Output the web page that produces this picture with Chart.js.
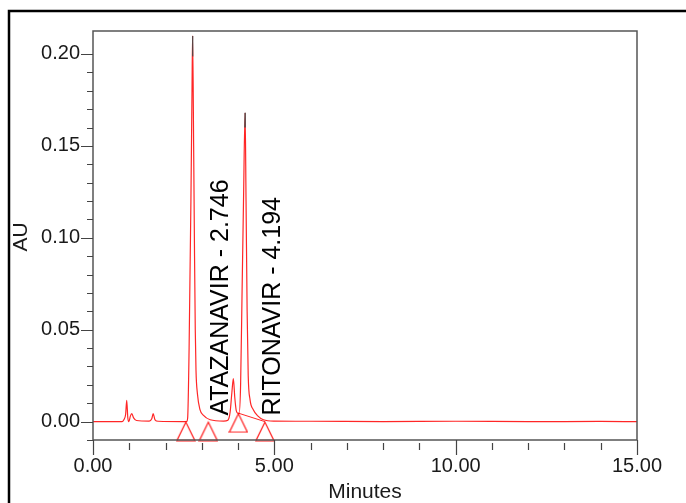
<!DOCTYPE html>
<html lang="en">
<head>
  <meta charset="UTF-8">
  <title>Chromatogram</title>
  <script src="https://cdn.jsdelivr.net/npm/chart.js"></script>
  <style>
    body { margin: 0; background: #fff; }
    #wrap { width: 686px; height: 503px; position: relative; }
  </style>
</head>
<body>
  <div id="wrap"><canvas id="chrom"></canvas></div>
  <script>
    // trace (minutes, AU)
    const traceTime = [0, 0.80, 0.85, 0.90, 0.93, 0.96, 0.99, 1.03, 1.07, 1.12, 1.20, 1.55, 1.62, 1.66, 1.71, 1.80,
      2.50, 2.58, 2.61, 2.65, 2.70, 2.73, 2.746, 2.775, 2.80, 2.82, 2.84, 2.88, 2.95, 3.04, 3.23, 3.60,
      3.72, 3.78, 3.83, 3.87, 3.91, 3.95, 4.00, 4.03, 4.07, 4.11, 4.15, 4.194, 4.22, 4.25, 4.28, 4.33, 4.42, 4.55, 4.70,
      5.00, 6.00, 8.00, 10.00, 12.00, 14.00, 15.00];
    const traceAU = [0, 0, 0.001, 0.004, 0.0116, 0.002, 0, 0.003, 0.0043, 0.002, 0.0006, 0.0003, 0.0015, 0.0043, 0.001, 0.0002,
      0, 0, 0.002, 0.04, 0.12, 0.18, 0.2098, 0.15, 0.09, 0.05, 0.028, 0.015, 0.0065, 0.0035, 0.001, 0.0003,
      0.0008, 0.005, 0.016, 0.0234, 0.013, 0.006, 0.0045, 0.0045, 0.02, 0.07, 0.12, 0.168, 0.12, 0.06, 0.025, 0.012, 0.0065, 0.003, 0.001,
      0.0003, 0.0002, 0, 0.0002, 0, 0.0001, 0];

    // dark tips of the two main peaks
    const tipTime = [2.739, 2.746, 2.7505, null, 4.187, 4.194, 4.198];
    const tipAU = [0.199, 0.2098, 0.199, null, 0.160, 0.168, 0.160];

    // integration marks (triangles) and baselines
    const markTime = [2.56, 3.18, 4.01, 4.74];
    const markAU = [0, 0, 0.0046, 0];

    const peakNames = ['ATAZANAVIR', 'RITONAVIR'];
    const peakRT = [2.746, 4.194];

    const xMax = 15, yMin = -0.01, yMax = 0.2125;

    const pts = (xs, ys) => xs.map((v, i) => ({ x: v, y: ys[i] }));
    const FONT = "'Liberation Sans', Arial, sans-serif";

    // triangle marker whose apex sits on the point
    const tri = document.createElement('canvas');
    tri.width = 20; tri.height = 40;
    (function () {
      const c = tri.getContext('2d');
      c.strokeStyle = 'rgba(255,0,0,0.9)';
      c.lineWidth = 1.2;
      c.beginPath();
      c.moveTo(10, 20.5); c.lineTo(1, 39); c.lineTo(19, 39); c.closePath();
      c.stroke();
    })();

    const near = (v, step) => Math.abs(v / step - Math.round(v / step)) < 1e-6;

    const decor = {
      id: 'decor',
      afterDraw(chart) {
        const { ctx, chartArea: a, scales: { x, y } } = chart;
        ctx.save();
        // outer frame
        ctx.strokeStyle = '#000';
        ctx.lineWidth = 2.5;
        ctx.beginPath();
        ctx.moveTo(9, 503); ctx.lineTo(9, 11); ctx.lineTo(686, 11);
        ctx.stroke();
        // plot box
        ctx.strokeStyle = '#555';
        ctx.lineWidth = 1.5;
        ctx.strokeRect(a.left, a.top, a.right - a.left, a.bottom - a.top);
        // ticks
        ctx.lineWidth = 1.2;
        ctx.strokeStyle = '#444';
        ctx.beginPath();
        x.ticks.forEach(t => {
          if (!near(t.value, 1)) return;
          const px = Math.round(x.getPixelForValue(t.value)) + 0.5;
          if (near(t.value, 5)) { ctx.moveTo(px, a.bottom); ctx.lineTo(px, a.bottom + 15); }
          else { ctx.moveTo(px, a.bottom + 3); ctx.lineTo(px, a.bottom + 10); }
        });
        y.ticks.forEach(t => {
          if (!near(t.value, 0.01)) return;
          const py = Math.round(y.getPixelForValue(t.value)) + 0.5;
          if (near(t.value, 0.05)) { ctx.moveTo(a.left, py); ctx.lineTo(a.left - 12, py); }
          else { ctx.moveTo(a.left, py); ctx.lineTo(a.left - 6, py); }
        });
        ctx.stroke();
        // axis titles
        ctx.fillStyle = '#1a1a1a';
        ctx.font = '21px ' + FONT;
        ctx.textAlign = 'center';
        ctx.textBaseline = 'middle';
        ctx.fillText('Minutes', 365, 492);
        ctx.save();
        ctx.translate(21, 237);
        ctx.rotate(-Math.PI / 2);
        ctx.fillText('AU', 0, 0);
        ctx.restore();
        // peak labels
        ctx.font = '25px ' + FONT;
        ctx.textAlign = 'left';
        ctx.textBaseline = 'alphabetic';
        ctx.fillStyle = '#000';
        peakNames.forEach((n, i) => {
          ctx.save();
          ctx.translate(x.getPixelForValue(peakRT[i]) + 35, y.getPixelForValue(0) - 6);
          ctx.rotate(-Math.PI / 2);
          ctx.fillText(n + ' - ' + peakRT[i].toFixed(3), 0, 0);
          ctx.restore();
        });
        ctx.restore();
      }
    };

    new Chart(document.getElementById('chrom'), {
      type: 'line',
      data: {
        datasets: [
          {
            data: pts(tipTime, tipAU),
            borderColor: 'rgba(70,70,70,0.9)',
            borderWidth: 1.3,
            pointRadius: 0,
            spanGaps: false,
            order: 0
          },
          {
            data: pts(traceTime, traceAU),
            borderColor: 'rgba(255,0,0,0.85)',
            borderWidth: 1.2,
            pointRadius: 0,
            cubicInterpolationMode: 'monotone',
            order: 1
          },
          {
            // integration baseline between the two last marks
            data: pts(markTime.slice(2), markAU.slice(2)),
            borderColor: 'rgba(255,0,0,0.85)',
            borderWidth: 1,
            pointRadius: 0,
            order: 2
          },
          {
            data: pts(markTime, markAU),
            showLine: false,
            pointStyle: tri,
            pointRadius: 10,
            clip: false,
            order: 3
          }
        ]
      },
      options: {
        responsive: true,
        maintainAspectRatio: false,
        animation: false,
        layout: { padding: { left: 0, top: 31, right: 49, bottom: 0 } },
        plugins: { legend: { display: false }, tooltip: { enabled: false } },
        scales: {
          x: {
            type: 'linear',
            min: 0,
            max: xMax,
            afterFit: s => { s.height = 63; },
            grid: { display: false, drawTicks: false },
            border: { display: false },
            ticks: {
              stepSize: 1,
              autoSkip: false,
              maxRotation: 0,
              padding: 14,
              color: '#1a1a1a',
              font: { family: FONT, size: 20 },
              callback: v => near(v, 5) ? v.toFixed(2) : ''
            }
          },
          y: {
            min: yMin,
            max: yMax,
            afterFit: s => { s.width = 93; },
            grid: { display: false, drawTicks: false },
            border: { display: false },
            ticks: {
              stepSize: 0.01,
              autoSkip: false,
              padding: 13,
              color: '#1a1a1a',
              font: { family: FONT, size: 20 },
              callback: v => near(v, 0.05) ? v.toFixed(2) : ''
            }
          }
        }
      },
      plugins: [decor]
    });
  </script>
</body>
</html>
